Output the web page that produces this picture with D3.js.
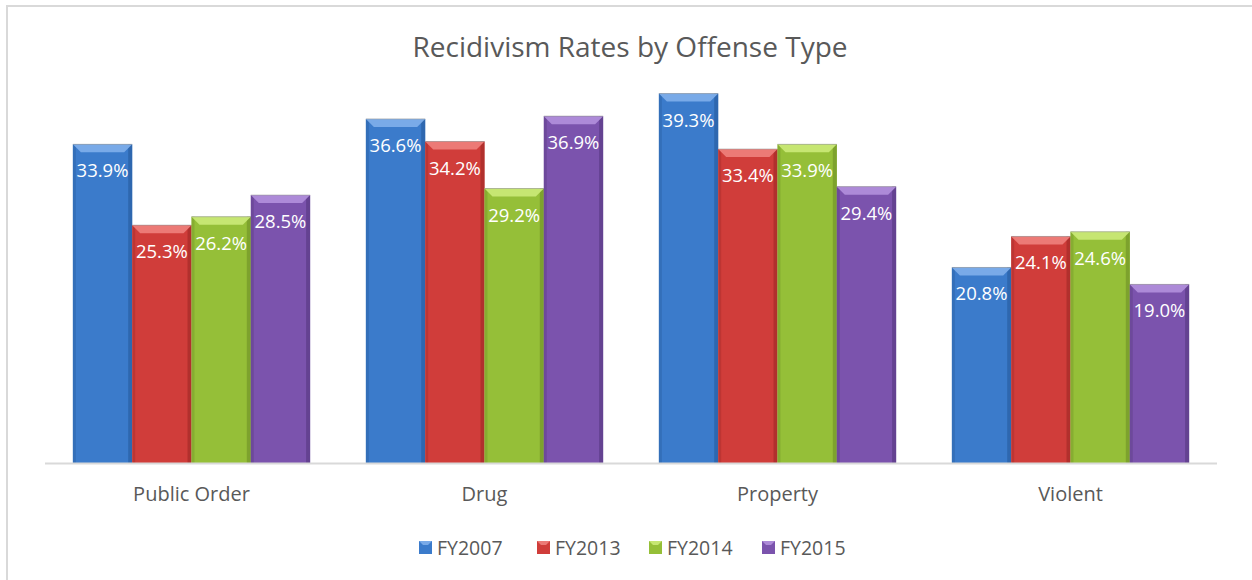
<!DOCTYPE html>
<html>
<head>
<meta charset="utf-8">
<script src="https://cdn.jsdelivr.net/npm/d3@7"></script>
<style>
  body { margin: 0; background: #fff; }
  svg { display: block; font-family: "Open Sans", "Liberation Sans", sans-serif; }
</style>
</head>
<body>
<script>
const WIDTH = 1252;
const HEIGHT = 580;

const categories = ["Public Order", "Drug", "Property", "Violent"];
const seriesNames = ["FY2007", "FY2013", "FY2014", "FY2015"];
const fy2007 = [33.9, 36.6, 39.3, 20.8];
const fy2013 = [25.3, 34.2, 33.4, 24.1];
const fy2014 = [26.2, 29.2, 33.9, 24.6];
const fy2015 = [28.5, 36.9, 29.4, 19.0];
const seriesValues = [fy2007, fy2013, fy2014, fy2015];

const colors = ["#3b7bcb", "#d03d3a", "#95bf38", "#7b53ad"];
const lights = ["#79aae8", "#ec7a76", "#c6e672", "#ad8ad8"];
const darks = ["#2c63a8", "#a92d2b", "#779b2a", "#5f3f8a"];

const svg = d3.select("body").append("svg")
  .attr("width", WIDTH)
  .attr("height", HEIGHT);

// chart frame
svg.append("rect")
  .attr("x", 7).attr("y", 6)
  .attr("width", WIDTH).attr("height", HEIGHT)
  .attr("fill", "none")
  .attr("stroke", "#d9d9d9")
  .attr("stroke-width", 2);

svg.append("text")
  .attr("x", 630).attr("y", 57)
  .attr("text-anchor", "middle")
  .attr("font-size", 28)
  .attr("fill", "#595959")
  .text("Recidivism Rates by Offense Type");

const x = d3.scaleBand()
  .domain(categories)
  .range([45, 1217])
  .paddingInner(0)
  .paddingOuter(0);

const xInner = d3.scaleBand()
  .domain(seriesNames)
  .range([0, x.bandwidth()])
  .paddingInner(0)
  .paddingOuter(0.47);

const y = d3.scaleLinear()
  .domain([0, 40])
  .range([463, 87]);

const rows = [];
categories.forEach((c, i) => {
  seriesNames.forEach((s, j) => {
    rows.push({cat: c, series: s, idx: j, value: seriesValues[j][i]});
  });
});

const bars = svg.append("g").selectAll("g")
  .data(rows)
  .join("g")
  .attr("transform", d => `translate(${x(d.cat) + xInner(d.series)},0)`);

const bw = xInner.bandwidth();
const bev = 8;

bars.append("rect")
  .attr("x", 0)
  .attr("y", d => y(d.value))
  .attr("width", bw)
  .attr("height", d => y(0) - y(d.value))
  .attr("fill", d => colors[d.idx]);

// side shading
bars.append("rect")
  .attr("x", 0)
  .attr("y", d => y(d.value))
  .attr("width", 3)
  .attr("height", d => y(0) - y(d.value))
  .attr("fill", d => darks[d.idx])
  .attr("opacity", 0.5);
bars.append("rect")
  .attr("x", bw - 4)
  .attr("y", d => y(d.value))
  .attr("width", 4)
  .attr("height", d => y(0) - y(d.value))
  .attr("fill", d => darks[d.idx])
  .attr("opacity", 0.8);

// top bevel
bars.append("path")
  .attr("d", d => {
    const t = y(d.value);
    return `M0,${t}L${bw},${t}L${bw - bev},${t + bev}L${bev},${t + bev}Z`;
  })
  .attr("fill", d => lights[d.idx]);

bars.append("line")
  .attr("x1", 0).attr("x2", bw)
  .attr("y1", d => y(d.value)).attr("y2", d => y(d.value))
  .attr("stroke", "#999")
  .attr("stroke-opacity", 0.6);

bars.append("text")
  .attr("x", bw / 2)
  .attr("y", d => y(d.value) + 33)
  .attr("text-anchor", "middle")
  .attr("font-size", 18.5)
  .attr("fill", "#fff")
  .text(d => d.value.toFixed(1) + "%");

// baseline
svg.append("line")
  .attr("x1", 45).attr("x2", 1217)
  .attr("y1", y(0) + 0.5).attr("y2", y(0) + 0.5)
  .attr("stroke", "#d9d9d9")
  .attr("stroke-width", 2);

svg.append("g").selectAll("text")
  .data(categories)
  .join("text")
  .attr("x", d => x(d) + x.bandwidth() / 2)
  .attr("y", 501)
  .attr("text-anchor", "middle")
  .attr("font-size", 20)
  .attr("fill", "#595959")
  .text(d => d);

// legend
const legendX = [419, 537, 649, 762];
const legend = svg.append("g").selectAll("g")
  .data(seriesNames)
  .join("g")
  .attr("transform", (d, i) => `translate(${legendX[i]},541)`);

legend.append("rect")
  .attr("width", 13).attr("height", 13)
  .attr("fill", (d, i) => colors[i]);
legend.append("path")
  .attr("d", "M0,0L13,0L9,4L4,4Z")
  .attr("fill", (d, i) => lights[i]);
legend.append("text")
  .attr("x", 18).attr("y", 13.5)
  .attr("font-size", 19.5)
  .attr("fill", "#595959")
  .text(d => d);
</script>
</body>
</html>
